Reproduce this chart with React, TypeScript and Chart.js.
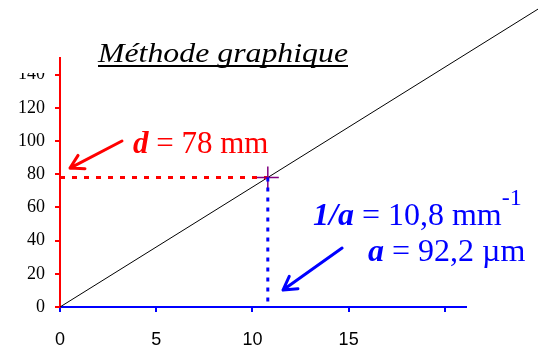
import { useEffect, useRef } from 'react';
import { Chart, registerables } from 'chart.js';

Chart.register(...registerables);

// Axis ticks
const X_TICKS = [0, 5, 10, 15, 20];
const X_TICK_LABELS = ['0', '5', '10', '15', ''];
const Y_TICKS = [0, 20, 40, 60, 80, 100, 120, 140];
const X_MAX = 21.1;
const Y_MAX = 150;

// Straight line d = f(1/a) through the origin
const FIT_X = [0, 25];
const FIT_Y = [0, 180.6];

// Reading taken on the graph
const INV_A = 10.8; // 1/a in mm^-1
const D_MM = 78; // d in mm

const SERIF = '"Liberation Serif"';
const SANS = '"Liberation Sans"';

type Run = { text: string; font: string; dy?: number };

function drawRuns(ctx: CanvasRenderingContext2D, runs: Run[], x: number, y: number, color: string, sx = 1) {
  ctx.save();
  ctx.translate(x, y);
  ctx.scale(sx, 1);
  ctx.fillStyle = color;
  ctx.textBaseline = 'alphabetic';
  ctx.textAlign = 'left';
  let cx = 0;
  for (const r of runs) {
    ctx.font = r.font;
    ctx.fillText(r.text, cx, r.dy || 0);
    cx += ctx.measureText(r.text).width;
  }
  ctx.restore();
}

function arrow(ctx: CanvasRenderingContext2D, x0: number, y0: number, x1: number, y1: number, color: string) {
  const len = Math.hypot(x1 - x0, y1 - y0);
  const ux = (x0 - x1) / len;
  const uy = (y0 - y1) / len;
  const head = 15;
  const a = Math.PI / 6;
  const w1x = ux * Math.cos(a) - uy * Math.sin(a);
  const w1y = ux * Math.sin(a) + uy * Math.cos(a);
  const w2x = ux * Math.cos(-a) - uy * Math.sin(-a);
  const w2y = ux * Math.sin(-a) + uy * Math.cos(-a);
  ctx.save();
  ctx.strokeStyle = color;
  ctx.lineWidth = 3;
  ctx.lineCap = 'round';
  ctx.lineJoin = 'round';
  ctx.beginPath();
  ctx.moveTo(x0, y0);
  ctx.lineTo(x1, y1);
  ctx.moveTo(x1 + w1x * head, y1 + w1y * head);
  ctx.lineTo(x1, y1);
  ctx.lineTo(x1 + w2x * head, y1 + w2y * head);
  ctx.stroke();
  ctx.restore();
}

const annotations = {
  id: 'annotations',
  afterDraw(chart: Chart) {
    const ctx = chart.ctx;
    const xs = chart.scales.x;
    const ys = chart.scales.y;
    const px = (v: number) => xs.getPixelForValue(v);
    const py = (v: number) => ys.getPixelForValue(v);

    // title box
    ctx.save();
    ctx.fillStyle = '#ffffff';
    ctx.fillRect(0, 40, 57, 33);
    ctx.restore();

    const title = 'Méthode graphique';
    const titleFont = `italic 27px ${SERIF}`;
    ctx.save();
    ctx.font = titleFont;
    const tw = ctx.measureText(title).width;
    ctx.restore();
    const titleW = 250;
    drawRuns(ctx, [{ text: title, font: titleFont }], 98, 62, '#000000', titleW / tw);
    ctx.save();
    ctx.fillStyle = '#000000';
    ctx.fillRect(98, 65, titleW, 2);
    ctx.restore();

    // d = 78 mm
    arrow(ctx, px(3.22), py(100), px(0.52), py(83.7), '#ff0000');
    drawRuns(
      ctx,
      [
        { text: 'd', font: `bold italic 31px ${SERIF}` },
        { text: ' = ' + String(D_MM) + ' mm', font: `31px ${SERIF}` },
      ],
      133,
      153,
      '#ff0000'
    );

    // 1/a and a
    arrow(ctx, px(14.66), py(35.5), px(11.59), py(10.2), '#0000ff');
    drawRuns(
      ctx,
      [
        { text: '1/a', font: `bold italic 32px ${SERIF}` },
        { text: ' = ' + String(INV_A).replace('.', ',') + ' mm', font: `32px ${SERIF}` },
        { text: '-1', font: `24px ${SERIF}`, dy: -20 },
      ],
      313,
      225,
      '#0000ff'
    );
    drawRuns(
      ctx,
      [
        { text: 'a', font: `bold italic 32px ${SERIF}` },
        { text: ' = 92,2 µm', font: `32px ${SERIF}` },
      ],
      368,
      261,
      '#0000ff'
    );
  },
};

export default function App() {
  const ref = useRef<HTMLCanvasElement>(null);

  useEffect(() => {
    if (!ref.current) return;
    const chart = new Chart(ref.current, {
      type: 'scatter',
      data: {
        datasets: [
          {
            data: [{ x: INV_A, y: D_MM }, { x: INV_A, y: 0 }],
            showLine: true,
            borderColor: '#0000ff',
            borderWidth: 3,
            borderDash: [4, 6],
            pointRadius: 0,
            order: 0,
          },
          {
            data: [{ x: INV_A, y: D_MM }],
            showLine: false,
            pointStyle: 'cross',
            pointRadius: 11,
            borderColor: '#800080',
            backgroundColor: '#800080',
            borderWidth: 1.5,
            order: 1,
          },
          {
            data: [{ x: 0, y: D_MM }, { x: INV_A, y: D_MM }],
            showLine: true,
            borderColor: '#ff0000',
            borderWidth: 3,
            borderDash: [5, 7],
            pointRadius: 0,
            order: 2,
          },
          {
            data: FIT_X.map((x, i) => ({ x, y: FIT_Y[i] })),
            showLine: true,
            borderColor: '#000000',
            borderWidth: 1,
            pointRadius: 0,
            clip: false,
            order: 3,
          },
        ],
      },
      options: {
        responsive: false,
        animation: false,
        layout: { padding: { top: 58, right: 72, bottom: 0, left: 0 } },
        plugins: { legend: { display: false }, tooltip: { enabled: false } },
        scales: {
          x: {
            type: 'linear',
            position: 'bottom',
            min: 0,
            max: X_MAX,
            afterBuildTicks: (s: any) => {
              s.ticks = X_TICKS.map((value) => ({ value }));
            },
            afterFit: (s: any) => {
              s.height = 43;
            },
            ticks: {
              autoSkip: false,
              maxRotation: 0,
              padding: 17,
              color: '#000000',
              font: { family: SANS, size: 18 },
              callback: (_v: any, i: number) => X_TICK_LABELS[i],
            },
            grid: { drawOnChartArea: false, color: '#0000ff', lineWidth: 2, tickLength: 5 },
            border: { color: '#0000ff', width: 2 },
          },
          y: {
            type: 'linear',
            position: 'left',
            min: 0,
            max: Y_MAX,
            afterBuildTicks: (s: any) => {
              s.ticks = Y_TICKS.map((value) => ({ value }));
            },
            afterFit: (s: any) => {
              s.width = 60;
            },
            ticks: {
              autoSkip: false,
              padding: 10,
              color: '#000000',
              font: { family: SERIF, size: 18 },
            },
            grid: { drawOnChartArea: false, color: '#ff0000', lineWidth: 2, tickLength: 5 },
            border: { color: '#ff0000', width: 2 },
          },
        },
      },
      plugins: [annotations],
    });

    // redraw once the system faces are resolved
    const redraw = () => chart.draw();
    const timers = [setTimeout(redraw, 60), setTimeout(redraw, 400)];
    const fonts = (document as any).fonts;
    if (fonts && fonts.load) {
      Promise.all([
        fonts.load(`italic 27px ${SERIF}`),
        fonts.load(`18px ${SERIF}`),
        fonts.load(`18px ${SANS}`),
      ]).then(redraw, redraw);
    }
    return () => {
      timers.forEach(clearTimeout);
      chart.destroy();
    };
  }, []);

  return (
    <div style={{ position: 'fixed', left: 0, top: 0, width: 538, height: 350, background: '#ffffff' }}>
      <canvas ref={ref} width={538} height={350} style={{ display: 'block' }} />
    </div>
  );
}
